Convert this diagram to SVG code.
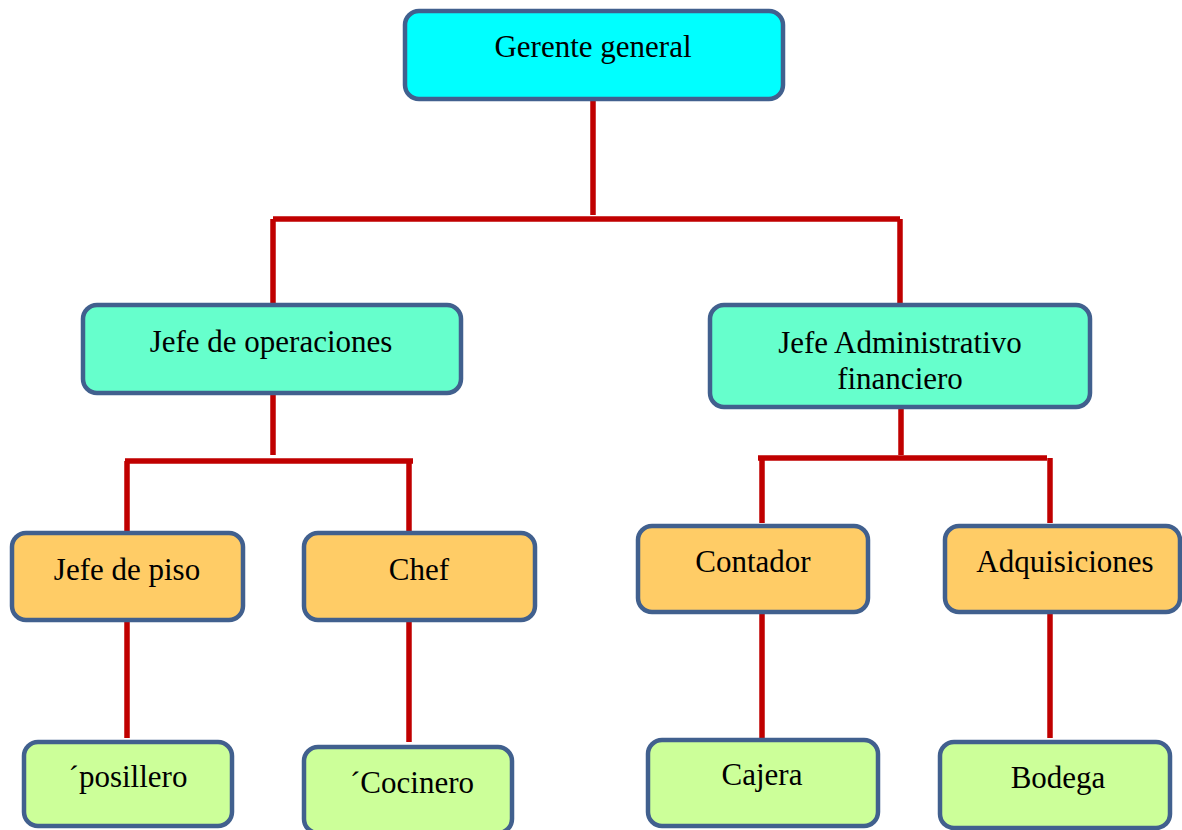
<svg xmlns="http://www.w3.org/2000/svg" width="1182" height="830" viewBox="0 0 1182 830">
<style>
.box{stroke:#41608E;stroke-width:4.5}
.l0{fill:#00FFFF}
.l1{fill:#66FFCC}
.l2{fill:#FFCC66}
.l3{fill:#CCFF99}
text{font-family:'Liberation Serif','Times New Roman',Tinos,serif;font-size:31px;fill:#000;text-anchor:middle}
.c{fill:none;stroke:#C00000;stroke-width:5.5}
</style>
<rect width="1182" height="830" fill="#fff"/>
<g id="connectors">
<path class="c" d="M593 100V215M273 219H900M273 219V303M900 219V303"/>
<path class="c" d="M273 395V455M125 461H413M127 461V531M409 461V531"/>
<path class="c" d="M901 409V455M758 458H1047M762 458V523M1050 458V523"/>
<path class="c" d="M127 622V738M409 622V742M762 614V738M1050 614V738"/>
</g>
<g id="gerente"><rect class="box l0" x="405" y="11" width="378" height="88" rx="14"/><text x="593" y="57">Gerente general</text></g>
<g id="jefe-operaciones"><rect class="box l1" x="83" y="305" width="378" height="88" rx="14"/><text x="271" y="352">Jefe de operaciones</text></g>
<g id="jefe-administrativo"><rect class="box l1" x="710" y="305" width="380" height="102" rx="14"/><text x="900" y="353">Jefe Administrativo</text><text x="900" y="389">financiero</text></g>
<g id="jefe-piso"><rect class="box l2" x="12" y="533" width="231" height="87" rx="14"/><text x="127" y="580">Jefe de piso</text></g>
<g id="chef"><rect class="box l2" x="304" y="533" width="231" height="87" rx="14"/><text x="419" y="580">Chef</text></g>
<g id="contador"><rect class="box l2" x="638" y="526" width="230" height="86" rx="14"/><text x="753" y="572">Contador</text></g>
<g id="adquisiciones"><rect class="box l2" x="945" y="526" width="235" height="86" rx="14"/><text x="1065" y="572">Adquisiciones</text></g>
<g id="posillero"><rect class="box l3" x="24" y="742" width="208" height="84" rx="14"/><text x="128" y="787">´posillero</text></g>
<g id="cocinero"><rect class="box l3" x="304" y="747" width="208" height="86" rx="14"/><text x="412" y="793">´Cocinero</text></g>
<g id="cajera"><rect class="box l3" x="648" y="740" width="230" height="86" rx="14"/><text x="762" y="785">Cajera</text></g>
<g id="bodega"><rect class="box l3" x="940" y="742" width="230" height="86" rx="14"/><text x="1058" y="788">Bodega</text></g>
</svg>
